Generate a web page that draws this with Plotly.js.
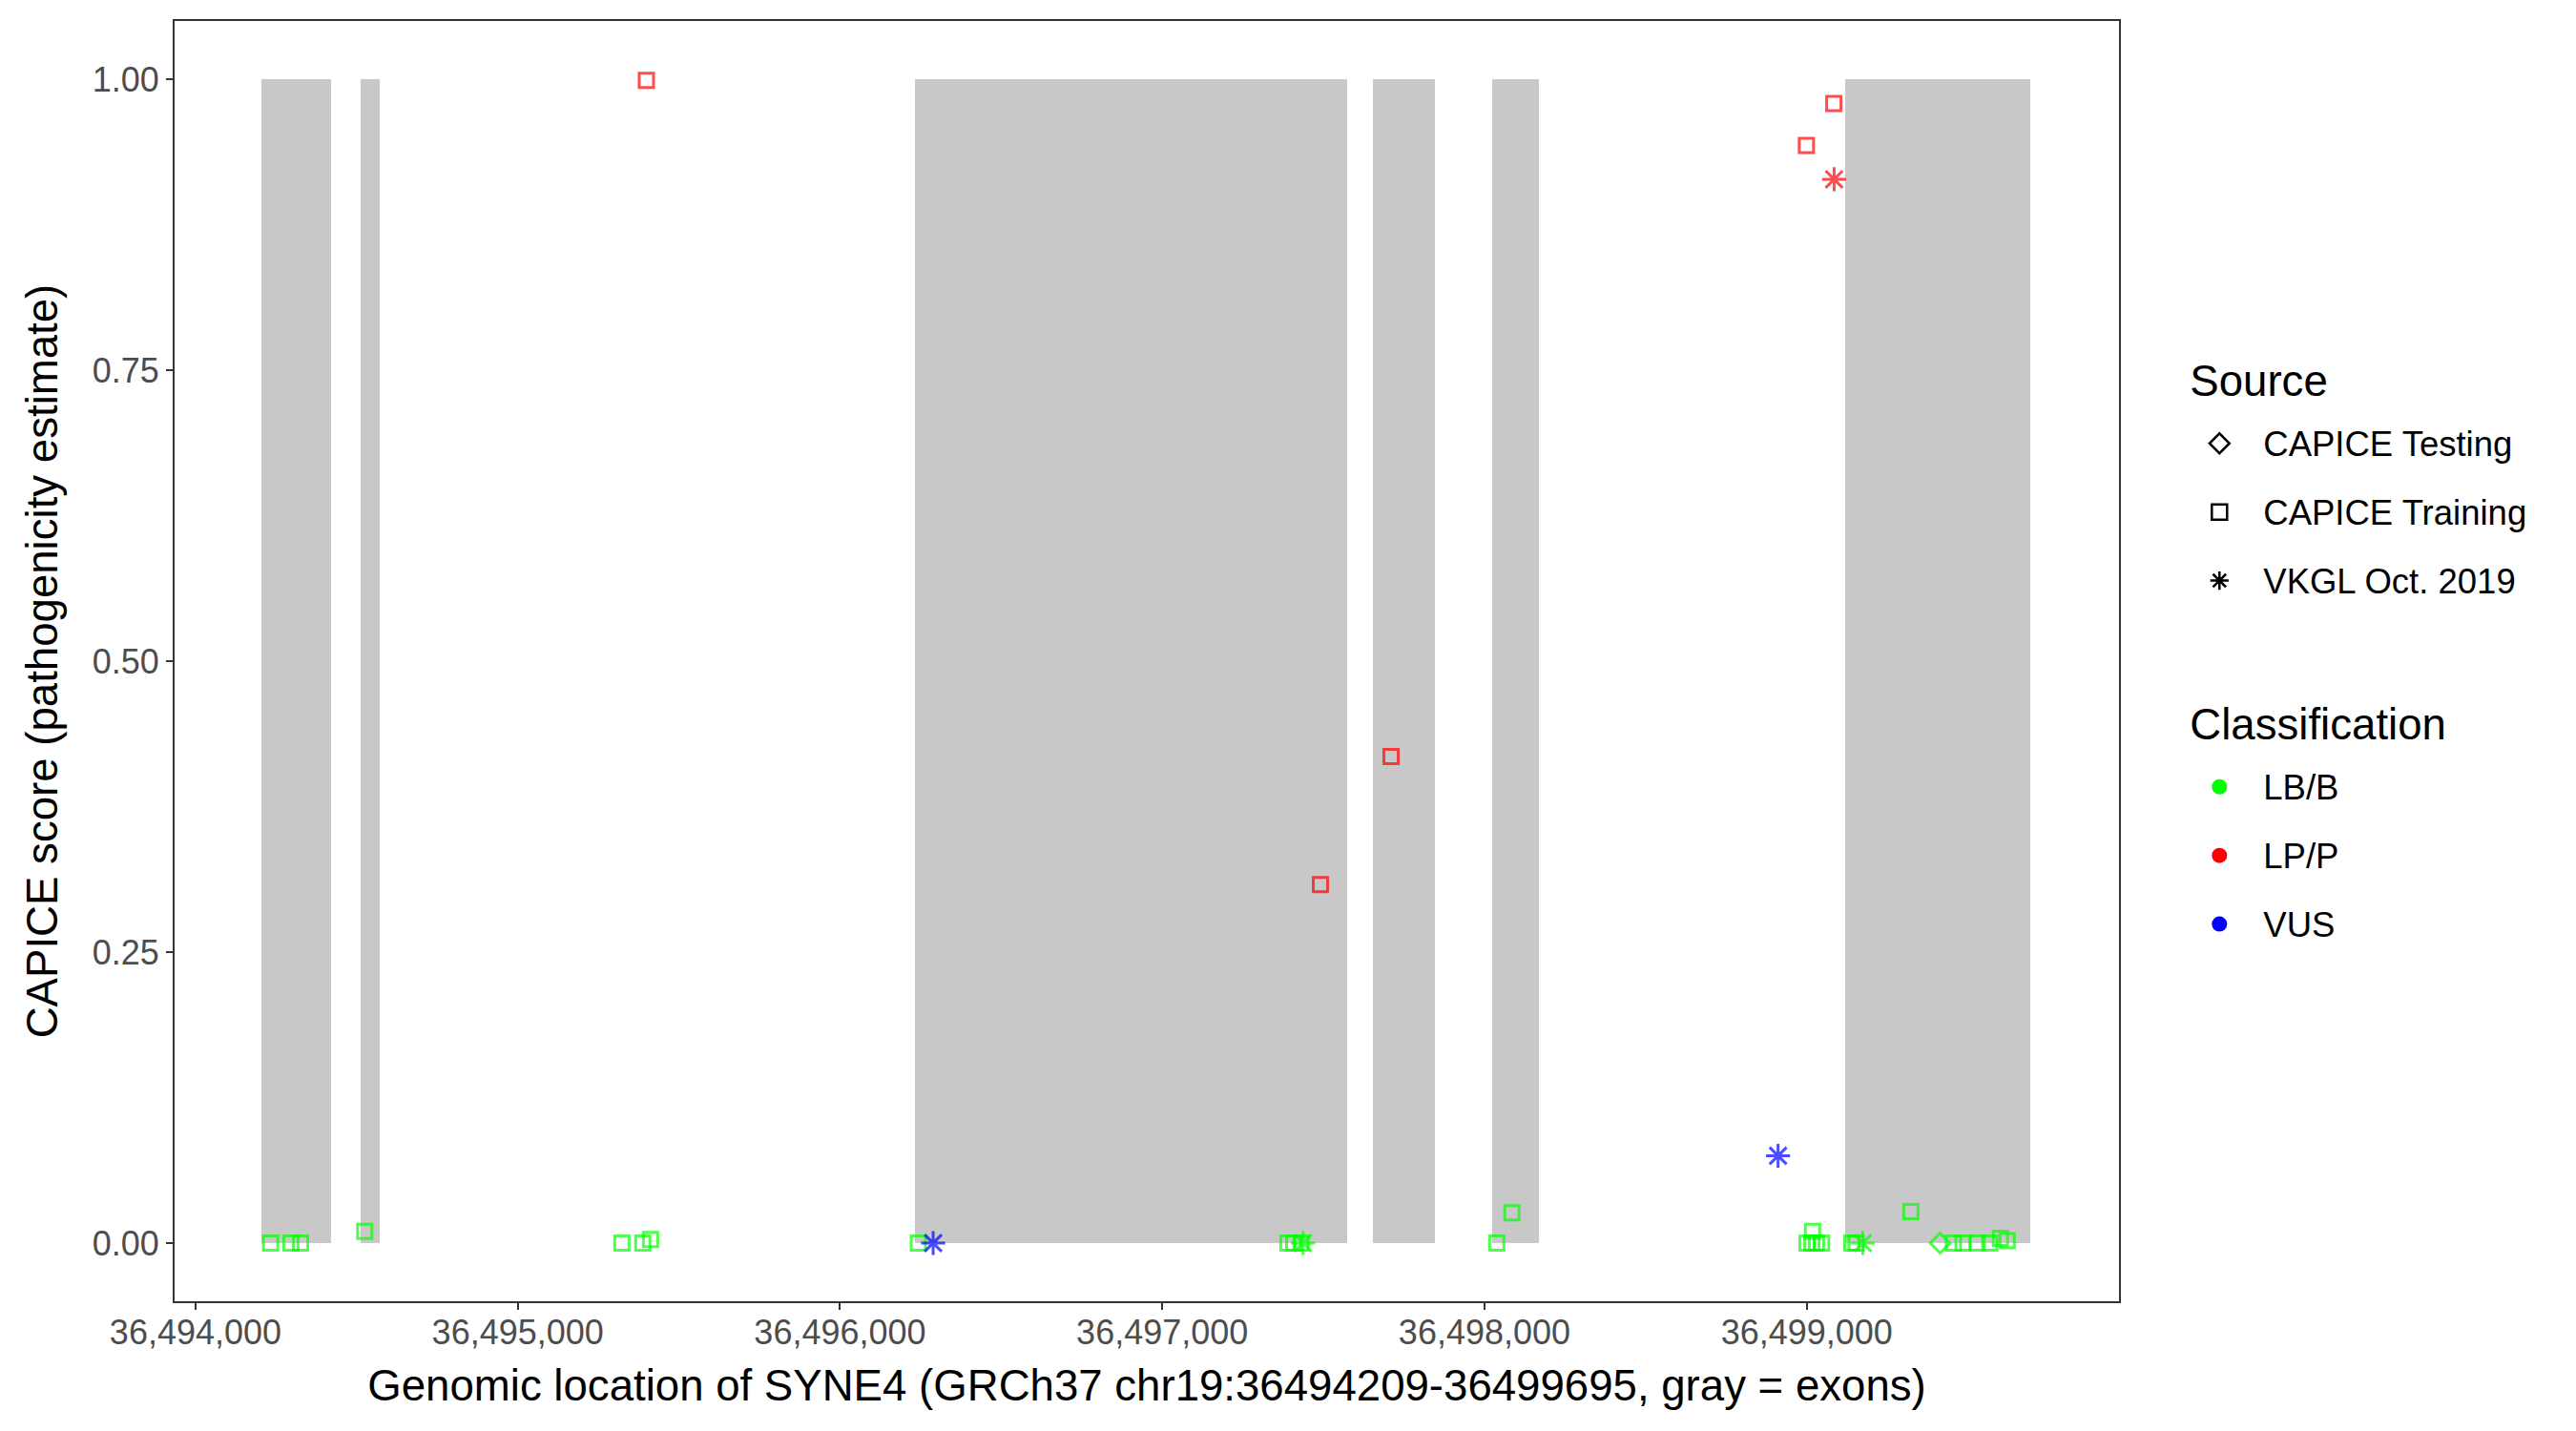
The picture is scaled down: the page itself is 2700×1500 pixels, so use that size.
<!DOCTYPE html>
<html><head><meta charset="utf-8">
<script src="https://cdn.plot.ly/plotly-3.0.1.min.js"></script>
<style>html,body{margin:0;padding:0;background:#fff}</style>
</head><body>
<div id="chart" style="width:2700px;height:1500px"></div>
<script>
// Exons of SYNE4 (gray rectangles)
const exonStart = [36494205, 36494513, 36496234, 36497653, 36498025, 36499119];
const exonEnd   = [36494421, 36494573, 36497573, 36497845, 36498170, 36499695];

// Variants
const position = [
  36494233, 36494296, 36494326, 36494525, 36495323, 36495388, 36495412, 36496243,
  36497390, 36497408, 36497431, 36498038, 36498085, 36499001, 36499018, 36499016,
  36499030, 36499046, 36499140, 36499153, 36499323, 36499455, 36499485, 36499529,
  36499568, 36499601, 36499622,
  36499414,
  36497437, 36499174,
  36496289, 36498911,
  36495399, 36499084, 36498999, 36497491, 36497710,
  36499085
];
const score = [
  0, 0, 0, 0.010, 0, 0, 0.003, 0,
  0, 0, 0, 0, 0.026, 0, 0.010, 0,
  0, 0, 0, 0, 0.027, 0, 0, 0,
  0, 0.004, 0.002,
  0,
  0, 0,
  0, 0.075,
  0.999, 0.979, 0.943, 0.308, 0.418,
  0.914
];
const source = [
  'CAPICE Training','CAPICE Training','CAPICE Training','CAPICE Training','CAPICE Training','CAPICE Training','CAPICE Training','CAPICE Training',
  'CAPICE Training','CAPICE Training','CAPICE Training','CAPICE Training','CAPICE Training','CAPICE Training','CAPICE Training','CAPICE Training',
  'CAPICE Training','CAPICE Training','CAPICE Training','CAPICE Training','CAPICE Training','CAPICE Training','CAPICE Training','CAPICE Training',
  'CAPICE Training','CAPICE Training','CAPICE Training',
  'CAPICE Testing',
  'VKGL Oct. 2019','VKGL Oct. 2019',
  'VKGL Oct. 2019','VKGL Oct. 2019',
  'CAPICE Training','CAPICE Training','CAPICE Training','CAPICE Training','CAPICE Training',
  'VKGL Oct. 2019'
];
const classification = [
  'LB/B','LB/B','LB/B','LB/B','LB/B','LB/B','LB/B','LB/B',
  'LB/B','LB/B','LB/B','LB/B','LB/B','LB/B','LB/B','LB/B',
  'LB/B','LB/B','LB/B','LB/B','LB/B','LB/B','LB/B','LB/B',
  'LB/B','LB/B','LB/B',
  'LB/B',
  'LB/B','LB/B',
  'VUS','VUS',
  'LP/P','LP/P','LP/P','LP/P','LP/P',
  'LP/P'
];

const sourceNames = ['CAPICE Testing', 'CAPICE Training', 'VKGL Oct. 2019'];
const classNames = ['LB/B', 'LP/P', 'VUS'];
const xTicks = [36494000, 36495000, 36496000, 36497000, 36498000, 36499000];
const yTicks = [0, 0.25, 0.5, 0.75, 1];

const symbolOf = {'CAPICE Testing': 'diamond-open', 'CAPICE Training': 'square-open', 'VKGL Oct. 2019': 'asterisk-open'};
const sizeOf = {'CAPICE Testing': 16, 'CAPICE Training': 15, 'VKGL Oct. 2019': 21};
const colorOf = {'LB/B': '#00FF00', 'LP/P': '#FF0000', 'VUS': '#0000FF'};

const FONT = 'Liberation Sans, Arial, Helvetica, sans-serif';
const lab = t => '<span style="font-size:36.5px;baseline-shift:7.5px">' + t + '</span>';

const traces = [];
// exons as bars
traces.push({
  type: 'bar',
  x: exonStart.map((s, i) => (s + exonEnd[i]) / 2),
  y: exonStart.map(() => 1),
  width: exonStart.map((s, i) => exonEnd[i] - s),
  base: 0,
  marker: {color: '#C8C8C8', line: {width: 0}},
  showlegend: false, hoverinfo: 'skip'
});
// variants
traces.push({
  type: 'scatter', mode: 'markers',
  x: position, y: score,
  cliponaxis: false,
  marker: {
    symbol: source.map(s => symbolOf[s]),
    size: source.map(s => sizeOf[s]),
    color: classification.map(c => colorOf[c]),
    line: {width: 3}
  },
  showlegend: false, hoverinfo: 'x+y'
});
// legend: Source
sourceNames.forEach(s => traces.push({
  type: 'scatter', mode: 'markers', x: [null], y: [null],
  name: lab(s), legendgroup: 'source',
  legendgrouptitle: {text: 'Source', font: {size: 45.6, color: '#000', family: FONT}},
  marker: {symbol: symbolOf[s], size: 16, color: '#000', line: {width: 2.5}}
}));
// legend: Classification
classNames.forEach(c => traces.push({
  type: 'scatter', mode: 'markers', x: [null], y: [null],
  name: lab(c), legendgroup: 'class',
  legendgrouptitle: {text: 'Classification', font: {size: 45.6, color: '#000', family: FONT}},
  marker: {symbol: 'circle', size: 16, color: colorOf[c]}
}));

const layout = {
  width: 2700, height: 1500,
  paper_bgcolor: '#fff', plot_bgcolor: '#fff',
  font: {family: FONT, color: '#000'},
  margin: {l: 182.5, r: 479, t: 21.7, b: 135.5, pad: 0},
  bargap: 0,
  xaxis: {
    range: [36493935, 36499969],
    tickvals: xTicks, tickformat: ',d',
    ticks: 'outside', ticklen: 7, tickwidth: 2, tickcolor: '#333333',
    ticklabelstandoff: -7,
    tickfont: {size: 36, color: '#4D4D4D', family: FONT},
    showline: true, linecolor: '#333333', linewidth: 2, mirror: true,
    showgrid: false, zeroline: false,
    title: {text: 'Genomic location of SYNE4 (GRCh37 chr19:36494209-36499695, gray = exons)',
            font: {size: 45.6, color: '#000', family: FONT}, standoff: 20}
  },
  yaxis: {
    range: [-0.05, 1.05],
    tickvals: yTicks, tickformat: '.2f',
    ticks: 'outside', ticklen: 7, tickwidth: 2, tickcolor: '#333333',
    tickfont: {size: 36, color: '#4D4D4D', family: FONT},
    showline: true, linecolor: '#333333', linewidth: 2, mirror: true,
    showgrid: false, zeroline: false,
    title: {text: 'CAPICE score (pathogenicity estimate)',
            font: {size: 45.6, color: '#000', family: FONT}, standoff: 22}
  },
  legend: {
    x: 1.034, xanchor: 'left', y: 0.747, yanchor: 'top',
    font: {size: 53, color: '#000', family: FONT},
    tracegroupgap: 82, traceorder: 'grouped',
    itemwidth: 82, indentation: -10,
    bgcolor: 'rgba(0,0,0,0)'
  },
  showlegend: true
};

Plotly.newPlot('chart', traces, layout, {staticPlot: true, displayModeBar: false});
</script>
</body></html>
